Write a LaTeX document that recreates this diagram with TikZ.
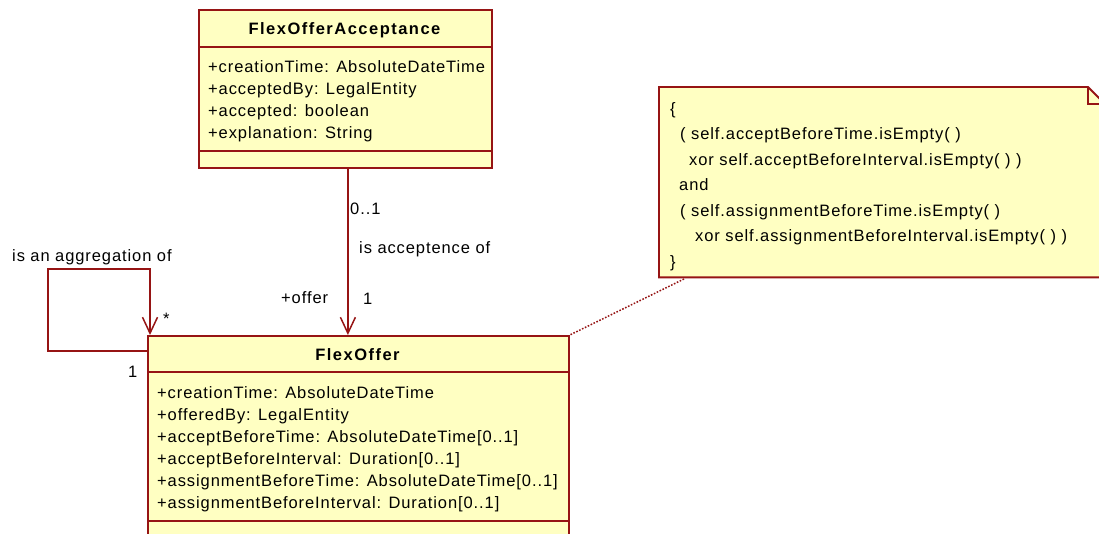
\documentclass[tikz,border=0pt]{standalone}
\usepackage{fontspec}
\setmainfont{Liberation Sans}[LetterSpace=5.5]
\newfontfamily\titlefont{Liberation Sans Bold}[LetterSpace=9]
\usetikzlibrary{arrows.meta}

\definecolor{umlred}{RGB}{150,20,20}
\definecolor{umlfill}{RGB}{255,255,194}

\tikzset{
  classbox/.style={draw=umlred, fill=umlfill, line width=1.8pt, rectangle, inner sep=0pt, anchor=north west},
  sepline/.style={draw=umlred, line width=1.8pt},
  txt/.style={anchor=base west, inner sep=0pt, font=\fontsize{16.5}{18}\selectfont},
  ctitle/.style={anchor=base, inner sep=0pt, font=\titlefont\fontsize{16.5}{18}\selectfont},
  assoc/.style={draw=umlred, line width=1.5pt, -{Straight Barb[length=16pt,width=15pt,line width=1.5pt]}},
  noteline/.style={draw=umlred, line width=1.5pt, dash pattern=on 1.6pt off 1.6pt},
}

\begin{document}
\begin{tikzpicture}[x=1pt,y=-1pt]
\useasboundingbox (0,0) rectangle (1099,534);
\clip (0,0) rectangle (1099,534);

% class FlexOfferAcceptance
\node[classbox, minimum width=293pt, minimum height=158pt] (acc) at (198,9) {};
\draw[sepline] (198,47) -- (493,47);
\draw[sepline] (198,151) -- (493,151);
\node[ctitle] (accT) at (344.5,35) {FlexOfferAcceptance};
\node[txt] (acc1) at (208,73) {+creationTime: AbsoluteDateTime};
\node[txt] (acc2) at (208,95) {+acceptedBy: LegalEntity};
\node[txt] (acc3) at (208,117) {+accepted: boolean};
\node[txt] (acc4) at (208,139) {+explanation: String};

% class FlexOffer
\node[classbox, minimum width=421pt, minimum height=230pt] (fo) at (147,335) {};
\draw[sepline] (147,372) -- (570,372);
\draw[sepline] (147,521) -- (570,521);
\node[ctitle] (foT) at (357.5,360) {FlexOffer};
\node[txt] (fo1) at (157,398) {+creationTime: AbsoluteDateTime};
\node[txt] (fo2) at (157,420) {+offeredBy: LegalEntity};
\node[txt] (fo3) at (157,442) {+acceptBeforeTime: AbsoluteDateTime[0..1]};
\node[txt] (fo4) at (157,464) {+acceptBeforeInterval: Duration[0..1]};
\node[txt] (fo5) at (157,486) {+assignmentBeforeTime: AbsoluteDateTime[0..1]};
\node[txt] (fo6) at (157,508) {+assignmentBeforeInterval: Duration[0..1]};

% constraint note with folded corner
\node[inner sep=0pt, minimum width=447pt, minimum height=190pt, anchor=north west] (note) at (659,87) {};
\filldraw[draw=umlred, fill=umlfill, line width=1.8pt]
  (note.north west) -- (1088,87) -- (1106,105) -- (note.south east) -- (note.south west) -- cycle;
\draw[draw=umlred, line width=1.8pt] (1088,87) -- (1088,104) -- (1106,104);
\node[txt] (n1) at (670,114.5) {\{};
\node[txt] (n2) at (680,140) {( self.acceptBeforeTime.isEmpty( )};
\node[txt] (n3) at (689,165.5) {xor self.acceptBeforeInterval.isEmpty( ) )};
\node[txt] (n4) at (679,191) {and};
\node[txt] (n5) at (680,216.5) {( self.assignmentBeforeTime.isEmpty( )};
\node[txt] (n6) at (695,242) {xor self.assignmentBeforeInterval.isEmpty( ) )};
\node[txt] (n7) at (670,267.5) {\}};

% note attachment
\coordinate (noteend) at (684,279);
\draw[noteline] (noteend) -- (fo.north east);

% association: acceptance of an offer
\draw[assoc] ([xshift=2.5pt]acc.south) -- ([xshift=2.5pt]acc.south |- fo.north);
\node[txt] (m01) at (350,215) {0..1};
\node[txt] (accname) at (359,254) {is acceptence of};
\node[txt] (role) at (281,304) {+offer};
\node[txt] (m1) at (363,305) {1};

% self association: aggregation
\draw[assoc] ([yshift=-16pt]fo.north west) -- (48,351) -- (48,269) -- (150,269) -- ([xshift=3pt]fo.north west);
\node[txt] (aggname) at (12,262) {is an aggregation of};
\node[txt] (star) at (163,324) {*};
\node[txt] (one) at (128,377) {1};
\end{tikzpicture}
\end{document}
